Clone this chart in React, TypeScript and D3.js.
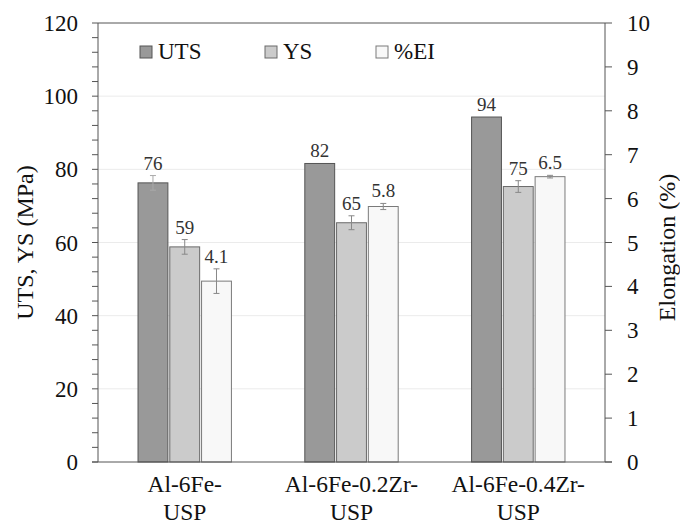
import * as d3 from "d3";

// chart data
const categories = ["Al-6Fe-|USP", "Al-6Fe-0.2Zr-|USP", "Al-6Fe-0.4Zr-|USP"];
const seriesNames = ["UTS", "YS", "%EI"];
const utsValues = [76.3, 81.6, 94.3];
const utsErrors = [2, 0, 0];
const ysValues = [58.8, 65.4, 75.3];
const ysErrors = [2, 1.9, 1.6];
const elValues = [4.12, 5.82, 6.5];
const elErrors = [0.28, 0.07, 0.03];
const utsLabels = ["76", "82", "94"];
const ysLabels = ["59", "65", "75"];
const elLabels = ["4.1", "5.8", "6.5"];
const leftTicks = [0, 20, 40, 60, 80, 100, 120];
const rightTicks = [0, 1, 2, 3, 4, 5, 6, 7, 8, 9, 10];

const FONT = "Liberation Serif";

const W = 680,
  H = 526;
const margin = { top: 23, right: 75, bottom: 64, left: 98 };
const width = W - margin.left - margin.right,
  height = H - margin.top - margin.bottom;

const x0 = d3.scaleBand<string>().domain(categories).range([0, width]).paddingInner(0.44).paddingOuter(0.24);
const x1 = d3.scaleBand<string>().domain(seriesNames).range([0, x0.bandwidth()]).paddingInner(0.06);
const yL = d3.scaleLinear().domain([0, 120]).range([height, 0]);
const yR = d3.scaleLinear().domain([0, 10]).range([height, 0]);
const minorTicks = d3.range(0, 121, 4);

const series = [
  { name: "UTS", vals: utsValues, errs: utsErrors, labels: utsLabels, y: yL, fill: "#999999", stroke: "#555555", err: "#aaaaaa" },
  { name: "YS", vals: ysValues, errs: ysErrors, labels: ysLabels, y: yL, fill: "#cbcbcb", stroke: "#6a6a6a", err: "#888888" },
  { name: "%EI", vals: elValues, errs: elErrors, labels: elLabels, y: yR, fill: "#f8f8f8", stroke: "#7a7a7a", err: "#888888" },
];

const axisColor = "#555";
const legendX = [42, 167, 278];

function App() {
  return (
    <svg
      width={W}
      height={H}
      fontFamily={FONT}
      style={{ position: "absolute", left: 0, top: 0, background: "#fff" }}
    >
      <g transform={`translate(${margin.left},${margin.top})`} fontFamily={FONT}>
        {/* gridlines */}
        {leftTicks.slice(1, -1).map((t) => (
          <line key={"g" + t} x1={0} x2={width} y1={yL(t)} y2={yL(t)} stroke="#ebebeb" />
        ))}

        {/* bars, error bars, value labels */}
        {series.map((s) =>
          categories.map((c, i) => {
            const bx = (x0(c) as number) + (x1(s.name) as number);
            const bw = x1.bandwidth();
            const v = s.vals[i];
            const e = s.errs[i];
            const cx = bx + bw / 2;
            return (
              <g key={s.name + c}>
                <rect x={bx} y={s.y(v)} width={bw} height={height - s.y(v)} fill={s.fill} stroke={s.stroke} />
                {e > 0 && (
                  <g stroke={s.err}>
                    <line x1={cx} x2={cx} y1={s.y(v - e)} y2={s.y(v + e)} />
                    <line x1={cx - 3} x2={cx + 3} y1={s.y(v - e)} y2={s.y(v - e)} />
                    <line x1={cx - 3} x2={cx + 3} y1={s.y(v + e)} y2={s.y(v + e)} />
                  </g>
                )}
                <text x={cx} y={s.y(v + e) - 6} textAnchor="middle" fontFamily={FONT} fontSize={19} fill="#333">
                  {s.labels[i]}
                </text>
              </g>
            );
          })
        )}

        {/* frame */}
        <line x1={0} x2={width} y1={0} y2={0} stroke={axisColor} />
        <line x1={-6} x2={width + 7} y1={height} y2={height} stroke={axisColor} />
        <line x1={0} x2={0} y1={0} y2={height} stroke={axisColor} />
        <line x1={width} x2={width} y1={0} y2={height} stroke={axisColor} />

        {/* left axis */}
        {minorTicks.map((t) => (
          <line key={"lt" + t} x1={-6} x2={0} y1={yL(t)} y2={yL(t)} stroke={axisColor} />
        ))}
        {leftTicks.map((t) => (
          <text key={"ll" + t} x={-20} y={yL(t)} dy="0.35em" textAnchor="end" fontFamily={FONT} fontSize={23} fill="#111">
            {t}
          </text>
        ))}

        {/* right axis */}
        {rightTicks.map((t) => (
          <line key={"rt" + t} x1={width} x2={width + 7} y1={yR(t)} y2={yR(t)} stroke={axisColor} />
        ))}
        {rightTicks.map((t) => (
          <text key={"rl" + t} x={width + 22} y={yR(t)} dy="0.35em" textAnchor="start" fontFamily={FONT} fontSize={23} fill="#111">
            {t}
          </text>
        ))}

        {/* category labels */}
        {categories.map((c) => {
          const cx = (x0(c) as number) + x0.bandwidth() / 2;
          return c.split("|").map((line, k) => (
            <text key={c + k} x={cx} y={height + 30 + k * 28} textAnchor="middle" fontFamily={FONT} fontSize={23.5} fill="#111">
              {line}
            </text>
          ));
        })}

        {/* axis titles */}
        <text transform={`translate(-73,${height / 2}) rotate(-90)`} dy="0.35em" textAnchor="middle" fontFamily={FONT} fontSize={24} fill="#111">
          UTS, YS (MPa)
        </text>
        <text transform={`translate(${width + 62},${height / 2 + 5}) rotate(-90)`} dy="0.35em" textAnchor="middle" fontFamily={FONT} fontSize={24} fill="#111">
          Elongation (%)
        </text>

        {/* legend */}
        {series.map((s, i) => (
          <g key={"leg" + s.name}>
            <rect x={legendX[i]} y={23} width={12} height={12} fill={s.fill} stroke={s.stroke} />
            <text x={legendX[i] + 18} y={36} fontFamily={FONT} fontSize={23} fill="#111">
              {s.name}
            </text>
          </g>
        ))}
      </g>
    </svg>
  );
}

export default App;
